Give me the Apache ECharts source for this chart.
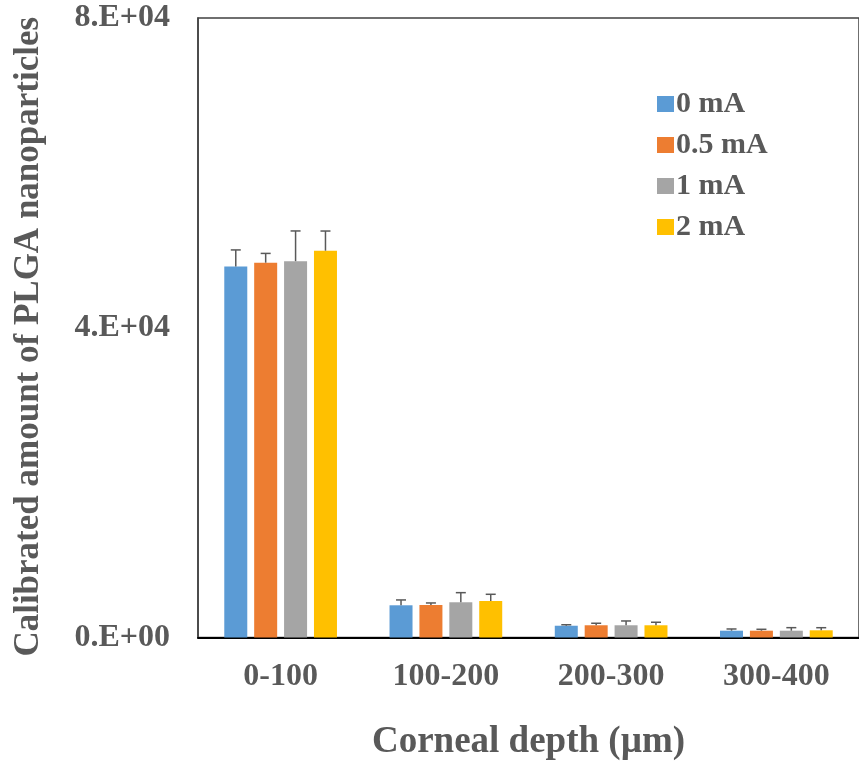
<!DOCTYPE html>
<html style="height: 100%">
<head>
    <meta charset="utf-8">
    <style>
        html, body {
            height: 100%;
            margin: 0;
            padding: 0;
            overflow: hidden;
            background: #fff;
        }
        #container {
            width: 859px;
            height: 766px;
        }
    </style>
</head>
<body>
    <div id="container"></div>

    <script src="https://cdn.jsdelivr.net/npm/echarts/dist/echarts.min.js"></script>
    <script>
        // corneal depth bins
        var categories = ['0-100', '100-200', '200-300', '300-400'];
        var seriesNames = ['0 mA', '0.5 mA', '1 mA', '2 mA'];
        var colors = ['#5B9BD5', '#ED7D31', '#A5A5A5', '#FFC000'];

        // mean values
        var mean0 = [47900, 4160, 1520, 880];
        var mean05 = [48400, 4200, 1580, 880];
        var mean1 = [48600, 4550, 1580, 880];
        var mean2 = [49950, 4710, 1580, 930];

        // upper error (SD)
        var err0 = [2150, 690, 130, 220];
        var err05 = [1200, 260, 260, 180];
        var err1 = [3900, 1240, 555, 390];
        var err2 = [2540, 870, 390, 335];

        var yTickLabels = {0: '0.E+00', 40000: '4.E+04', 80000: '8.E+04'};

        var means = [mean0, mean05, mean1, mean2];
        var errs = [err0, err05, err1, err2];

        var barWidth = 23;
        var barGap = 0.3;
        var textColor = '#595959';
        var font = '"Liberation Serif", "Times New Roman", serif';

        var dom = document.getElementById('container');
        var myChart = echarts.init(dom);

        var series = [];
        seriesNames.forEach(function (name, i) {
            series.push({
                type: 'bar',
                name: name,
                data: means[i],
                barWidth: barWidth,
                barGap: (barGap * 100) + '%',
                itemStyle: { color: colors[i] }
            });
        });
        seriesNames.forEach(function (name, i) {
            series.push({
                type: 'custom',
                name: 'err ' + name,
                z: 5,
                data: means[i].map(function (m, k) { return [k, m, errs[i][k]]; }),
                renderItem: function (params, api) {
                    var k = api.value(0);
                    var m = api.value(1);
                    var e = api.value(2);
                    var off = (i - 1.5) * barWidth * (1 + barGap);
                    var base = api.coord([k, m]);
                    var top = api.coord([k, m + e]);
                    var x = base[0] + off;
                    var style = { stroke: '#595959', lineWidth: 1.5 };
                    return {
                        type: 'group',
                        children: [
                            { type: 'line', shape: { x1: x, y1: base[1], x2: x, y2: top[1] }, style: style },
                            { type: 'line', shape: { x1: x - 5, y1: top[1], x2: x + 5, y2: top[1] }, style: style }
                        ]
                    };
                }
            });
        });

        var option = {
            animation: false,
            textStyle: { fontFamily: font },
            grid: {
                left: 198,
                top: 18,
                width: 666,
                height: 619.5,
                show: true,
                borderColor: '#404040',
                borderWidth: 1.5
            },
            legend: {
                data: seriesNames,
                orient: 'vertical',
                left: 652,
                top: 84,
                itemWidth: 17,
                itemHeight: 16,
                itemGap: 11,
                icon: 'rect',
                textStyle: {
                    color: textColor,
                    fontSize: 30,
                    fontWeight: 'bold',
                    fontFamily: font,
                    padding: [0, 0, 0, -3]
                }
            },
            xAxis: {
                type: 'category',
                data: categories,
                axisLine: { lineStyle: { color: '#000', width: 2 } },
                axisTick: { show: false },
                axisLabel: {
                    color: textColor,
                    fontSize: 32,
                    fontWeight: 'bold',
                    fontFamily: font,
                    margin: 23
                },
                name: 'Corneal depth (\u00b5m)',
                nameLocation: 'middle',
                nameGap: 86,
                nameTextStyle: {
                    color: textColor,
                    fontSize: 37,
                    fontWeight: 'bold',
                    fontFamily: font
                }
            },
            yAxis: {
                type: 'value',
                min: 0,
                max: 80000,
                interval: 40000,
                splitLine: { show: false },
                axisLine: { show: true, lineStyle: { color: '#404040', width: 1.5 } },
                axisTick: { show: false },
                axisLabel: {
                    color: textColor,
                    fontSize: 32,
                    fontWeight: 'bold',
                    fontFamily: font,
                    margin: 28,
                    formatter: function (v) { return yTickLabels[v] || ''; }
                },
                name: 'Calibrated amount of PLGA nanoparticles',
                nameLocation: 'middle',
                nameGap: 152,
                nameTextStyle: {
                    color: textColor,
                    fontSize: 35,
                    fontWeight: 'bold',
                    fontFamily: font,
                    padding: [0, 18, 0, 0]
                }
            },
            series: series
        };
        myChart.setOption(option);
    </script>
</body>
</html>
